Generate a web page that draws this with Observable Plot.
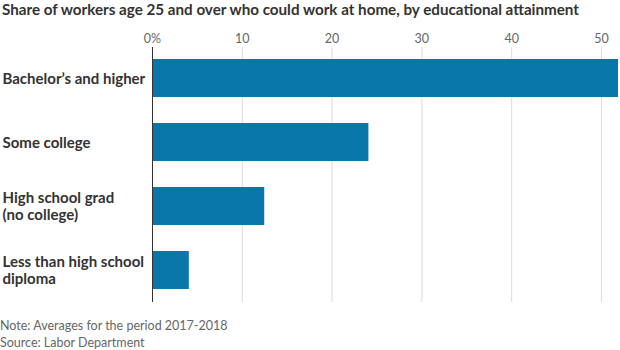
<!DOCTYPE html>
<html>
<head>
<meta charset="utf-8">
<script src="https://cdn.jsdelivr.net/npm/d3@7"></script>
<script src="https://cdn.jsdelivr.net/npm/@observablehq/plot@0.6"></script>
<style>
  html, body { margin: 0; padding: 0; background: #fff; }
  #wrap { position: relative; width: 620px; height: 350px; overflow: hidden; font-family: Lato, "Noto Sans", sans-serif; }
  #title { position: absolute; left: 2px; top: 0px; font-size: 15.2px; font-weight: 700; color: #333; white-space: nowrap; }
  #notes { position: absolute; left: 0px; top: 317px; font-size: 12.5px; color: #666; line-height: 17px; }
  #chart { position: absolute; left: 0; top: 0; }
</style>
</head>
<body>
<div id="wrap">
  <div id="chart"></div>
  <div id="title">Share of workers age 25 and over who could work at home, by educational attainment</div>
  <div id="notes">Note: Averages for the period 2017-2018<br>Source: Labor Department</div>
</div>
<script>
const categories = ["Bachelor’s and higher", "Some college", "High school grad\n(no college)", "Less than high school\ndiploma"];
const shares = [51.9, 24.1, 12.5, 4.1];
const xTicks = [0, 10, 20, 30, 40, 50];

const data = categories.map((c, i) => ({category: c, share: shares[i]}));

const chart = Plot.plot({
  width: 620,
  height: 350,
  marginTop: 47,
  marginBottom: 48,
  marginLeft: 152,
  marginRight: 2,
  style: {fontFamily: "Lato, 'Noto Sans', sans-serif", background: "#fff"},
  x: {domain: [0, 51.9], ticks: xTicks},
  y: {domain: categories, paddingInner: 0.4, paddingOuter: 0.19, axis: null},
  marks: [
    Plot.gridX(xTicks.filter(d => d > 0), {stroke: "#dcdcdc", strokeOpacity: 1}),
    Plot.axisX(xTicks, {anchor: "top", tickSize: 0, tickPadding: 5, fontSize: 12.5, fill: "#666",
      tickFormat: d => d === 0 ? "0%" : String(d), label: null}),
    Plot.barX(data, {x: "share", y: "category", fill: "#0a77aa"}),
    Plot.ruleX([0], {stroke: "#333", strokeWidth: 1}),
    Plot.text(data, {y: "category", text: "category", frameAnchor: "left", textAnchor: "start", dx: -150,
      fontSize: 15, fontWeight: 700, fill: "#333", lineHeight: 1.12})
  ]
});
document.getElementById("chart").appendChild(chart);
</script>
</body>
</html>
